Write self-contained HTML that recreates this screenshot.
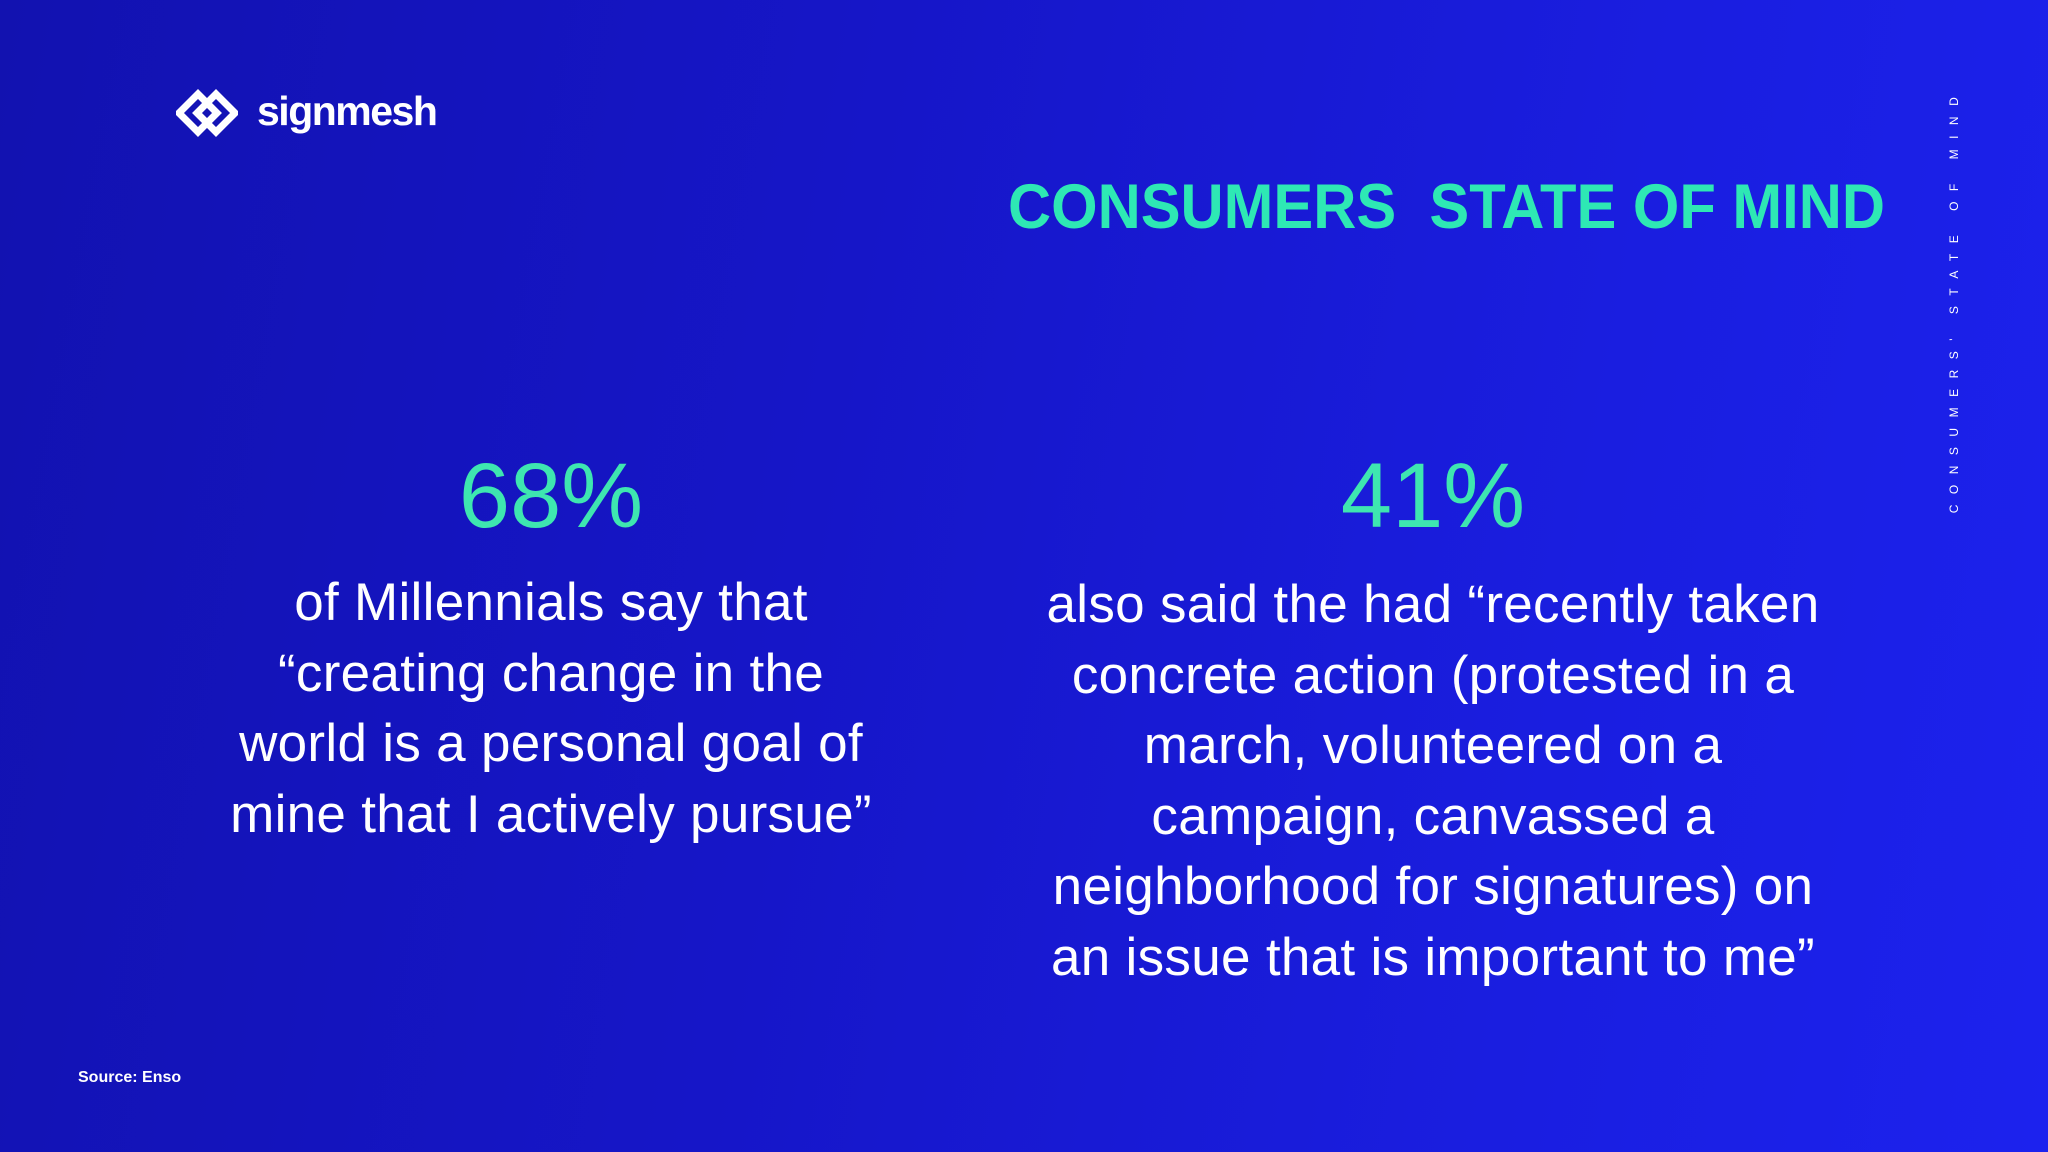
<!DOCTYPE html>
<html><head><meta charset="utf-8"><style>
html,body{margin:0;padding:0}
body{width:2048px;height:1152px;overflow:hidden;position:relative;font-family:"Liberation Sans",sans-serif;
background:linear-gradient(100deg,#1212b0 0%,#1616c8 40%,#1a1ee0 75%,#1c22ee 100%);}
.abs{position:absolute}
.c{text-align:center;color:#fff;font-size:53px;line-height:70.5px;width:1000px;letter-spacing:0.3px}
.pct{color:#3ee6b0;font-size:92px;text-align:center;width:600px;line-height:100px}
</style></head><body>
<div>
<svg class="abs" style="left:176px;top:88px" width="62" height="50" viewBox="0 0 62 50">
<g fill="none" stroke="#fff" stroke-width="7">
<path d="M22 6 L41 25 L22 44 L3 25 Z"/>
<path d="M40 6 L59 25 L40 44 L21 25 Z"/>
</g></svg>
<div class="abs" style="left:257px;top:88px;font-size:41px;font-weight:bold;color:#fff;letter-spacing:-1.5px">signmesh</div>
<svg class="abs" style="left:1000px;top:170px" width="900" height="70">
<text x="8" y="58" textLength="877" lengthAdjust="spacingAndGlyphs" font-family="Liberation Sans" font-weight="bold" font-size="63" fill="#2ee8b4">CONSUMERS&#160; STATE OF MIND</text></svg>
<div class="abs" style="left:1934px;top:90px;width:40px;height:420px">
<div style="position:absolute;left:20px;top:210px;transform:translate(-50%,-50%) rotate(-90deg);white-space:nowrap;color:#fff;font-size:12px;letter-spacing:10.5px">CONSUMERS' STATE OF MIND</div></div>
<div class="abs pct" style="left:251px;top:446px">68%</div>
<div class="abs c" style="left:51px;top:568px">of Millennials say that<br>“creating change in the<br>world is a personal goal of<br>mine that I actively pursue”</div>
<div class="abs pct" style="left:1133px;top:446px">41%</div>
<div class="abs c" style="left:933px;top:570px">also said the had “recently taken<br>concrete action (protested in a<br>march, volunteered on a<br>campaign, canvassed a<br>neighborhood for signatures) on<br>an issue that is important to me”</div>
<div class="abs" style="left:78px;top:1069px;color:#fff;font-size:16px;font-weight:bold">Source: Enso</div>
</div>
</body></html>
